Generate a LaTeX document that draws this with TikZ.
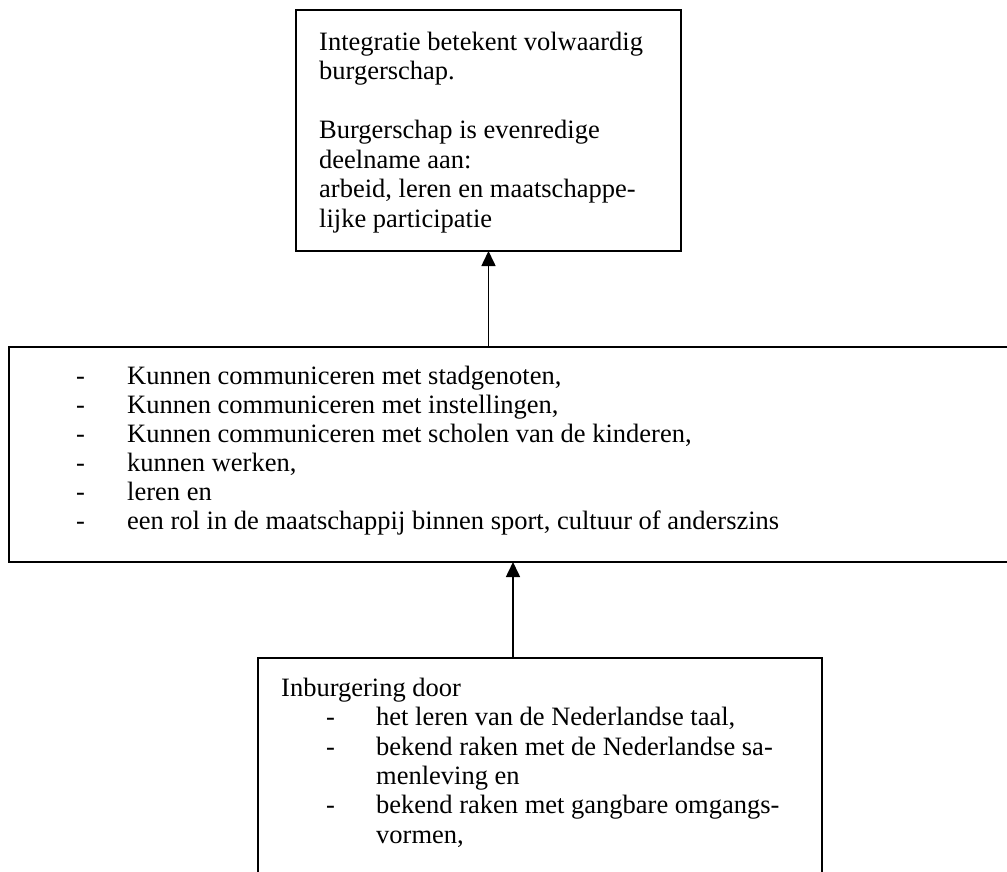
\documentclass[tikz,border=0pt]{standalone}
\usepackage{fontspec}
\setmainfont{Liberation Serif}
\usetikzlibrary{arrows.meta}
\begin{document}
\begin{tikzpicture}[x=1pt,y=-1pt,
  box/.style={draw, line width=1.6pt, rectangle, inner sep=0pt, outer sep=0pt, anchor=north west},
  txt/.style={anchor=base west, inner sep=0pt, font=\fontsize{26.5}{29.5}\selectfont},
  conn/.style={line width=1.6pt, -{Triangle[width=14pt,length=15pt]}}]
\useasboundingbox (0,0) rectangle (1007,871);
\clip (0,0) rectangle (1007,871);
% boxes
\node[box, minimum width=385pt, minimum height=241pt] (top) at (296,10) {};
\node[box, minimum width=1008pt, minimum height=215pt] (mid) at (9,347) {};
\node[box, minimum width=564pt, minimum height=260pt] (bot) at (258,658) {};
% top text
\node[txt] (ta) at (319,50) {Integratie betekent volwaardig};
\node[txt] (tb) at (319,79.5) {burgerschap.};
\node[txt] (tc) at (319,138.5) {Burgerschap is evenredige};
\node[txt] (td) at (319,168) {deelname aan:};
\node[txt] (te) at (319,197.5) {arbeid, leren en maatschappe-};
\node[txt] (tf) at (319,227) {lijke participatie};
% middle text
\node[txt] (ma0) at (76,384) {-};
\node[txt] (ma) at (127,384) {Kunnen communiceren met stadgenoten,};
\node[txt] (mb0) at (76,413) {-};
\node[txt] (mb) at (127,413) {Kunnen communiceren met instellingen,};
\node[txt] (mc0) at (76,442) {-};
\node[txt] (mc) at (127,442) {Kunnen communiceren met scholen van de kinderen,};
\node[txt] (md0) at (76,471) {-};
\node[txt] (md) at (127,471) {kunnen werken,};
\node[txt] (me0) at (76,500) {-};
\node[txt] (me) at (127,500) {leren en};
\node[txt] (mf0) at (76,529) {-};
\node[txt] (mf) at (127,529) {een rol in de maatschappij binnen sport, cultuur of anderszins};
% bottom text
\node[txt] (ba) at (281,696) {Inburgering door};
\node[txt] (bb0) at (326,725) {-};
\node[txt] (bb) at (376,725) {het leren van de Nederlandse taal,};
\node[txt] (bc0) at (326,755) {-};
\node[txt] (bc) at (376,755) {bekend raken met de Nederlandse sa-};
\node[txt] (bd) at (376,784) {menleving en};
\node[txt] (be0) at (326,813) {-};
\node[txt] (be) at (376,813) {bekend raken met gangbare omgangs-};
\node[txt] (bf) at (376,843) {vormen,};
% connectors
\draw[conn] (top.south |- mid.north) -- (top.south);
\draw[conn] (mid.south |- bot.north) -- (mid.south);
\end{tikzpicture}
\end{document}
